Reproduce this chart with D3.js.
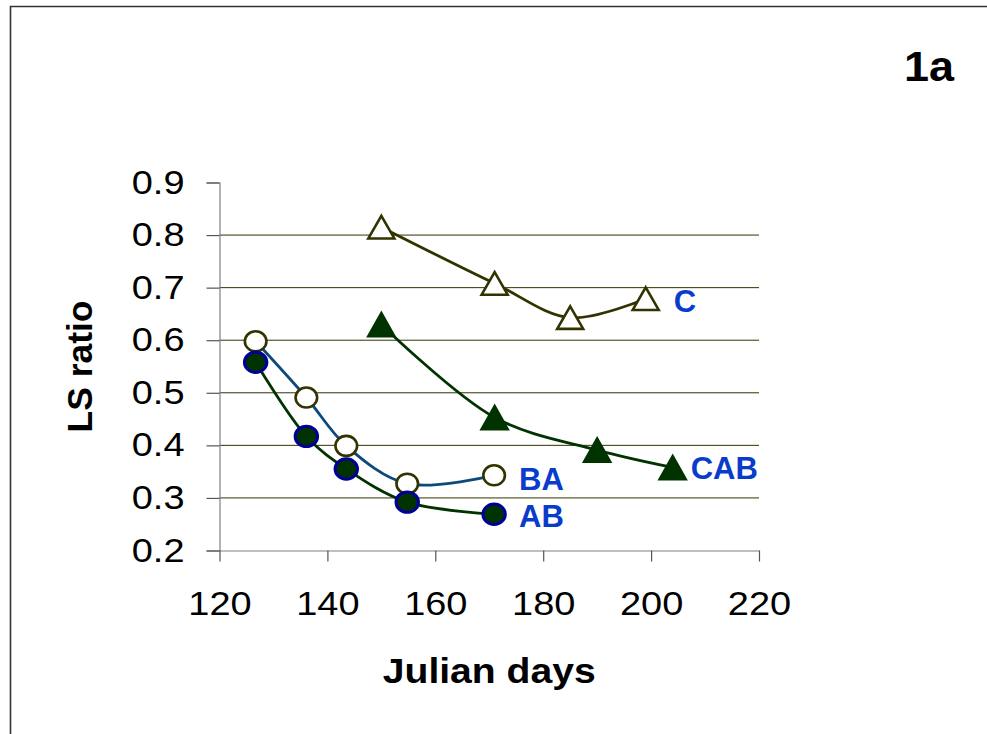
<!DOCTYPE html>
<html>
<head>
<meta charset="utf-8">
<script src="https://cdn.jsdelivr.net/npm/d3@7"></script>
<style>
  html, body { margin: 0; padding: 0; background: #fff; }
  svg { display: block; }
  text { font-family: Arial, "Liberation Sans", sans-serif; }
</style>
</head>
<body>
<svg id="chart" width="987" height="734"></svg>
<script>
// ---- Data ----
const xTicks = [120, 140, 160, 180, 200, 220];
const yTicks = [0.2, 0.3, 0.4, 0.5, 0.6, 0.7, 0.8, 0.9];
const gridValues = [0.3, 0.4, 0.5, 0.6, 0.7, 0.8];

const daysC   = [150, 171, 185, 199];
const valuesC = [0.815, 0.708, 0.643, 0.679];

const daysCAB   = [150, 171, 190, 204];
const valuesCAB = [0.630, 0.453, 0.391, 0.358];

const daysBA   = [126.7, 136.1, 143.5, 154.8, 170.9];
const valuesBA = [0.598, 0.491, 0.399, 0.327, 0.343];

const daysAB   = [126.7, 136.1, 143.5, 154.8, 170.9];
const valuesAB = [0.558, 0.417, 0.355, 0.292, 0.269];

const seriesNames = ["C", "CAB", "BA", "AB"];
const panelLabel = "1a";
const xTitle = "Julian days";
const yTitle = "LS ratio";

// ---- Build ----
const svg = d3.select("#chart");
const x = d3.scaleLinear().domain([120, 220]).range([219.5, 759]);
const y = d3.scaleLinear().domain([0.2, 0.9]).range([550.5, 182.5]);
const SX = 1.15; // horizontal stretch of text seen in reference

// Frame
svg.append("path")
  .attr("d", "M10.5,734 L10.5,6.5 L987,6.5")
  .attr("fill", "none").attr("stroke", "#333").attr("stroke-width", 1.6);

// Gridlines
svg.append("g").selectAll("line").data(gridValues).join("line")
  .attr("x1", x(120)).attr("x2", x(220))
  .attr("y1", d => y(d)).attr("y2", d => y(d))
  .attr("stroke", "#333300").attr("stroke-width", 1);

// Y axis
const gy = svg.append("g").attr("transform", `translate(${x(120)},0)`)
  .call(d3.axisLeft(y).tickValues(yTicks).tickSize(13).tickPadding(22)
    .tickFormat(d3.format(".1f")));
gy.select(".domain").attr("stroke", "#808080").attr("stroke-width", 1.2);
gy.selectAll(".tick line").attr("stroke", "#555").attr("stroke-width", 1.2);
gy.selectAll(".tick text")
  .attr("font-size", 33).attr("fill", "#000")
  .attr("font-family", "Arial, 'Liberation Sans', sans-serif")
  .attr("x", -35 / SX)
  .attr("transform", `scale(${SX},1)`);

// X axis
const gx = svg.append("g").attr("transform", `translate(0,${y(0.2)})`)
  .call(d3.axisBottom(x).tickValues(xTicks).tickSize(11).tickPadding(30)
    .tickSizeOuter(0));
gx.select(".domain").attr("stroke", "#808080").attr("stroke-width", 1.2);
gx.selectAll(".tick line").attr("stroke", "#555").attr("stroke-width", 1.2);
gx.selectAll(".tick text")
  .attr("font-size", 33).attr("fill", "#000")
  .attr("font-family", "Arial, 'Liberation Sans', sans-serif")
  .attr("x", 0)
  .attr("transform", `scale(${SX},1)`);

// Axis titles
svg.append("text")
  .attr("x", (x(120) + x(220)) / 2).attr("y", 683)
  .attr("text-anchor", "middle")
  .attr("font-size", 35).attr("font-weight", "bold")
  .attr("textLength", 213).attr("lengthAdjust", "spacingAndGlyphs")
  .text(xTitle);

svg.append("text")
  .attr("transform", `translate(92,${(y(0.2) + y(0.9)) / 2}) rotate(-90)`)
  .attr("text-anchor", "middle")
  .attr("font-size", 35).attr("font-weight", "bold")
  .attr("textLength", 132).attr("lengthAdjust", "spacingAndGlyphs")
  .text(yTitle);

// Panel label
svg.append("text")
  .attr("x", 929).attr("y", 81)
  .attr("text-anchor", "middle")
  .attr("font-size", 42).attr("font-weight", "bold")
  .attr("textLength", 50).attr("lengthAdjust", "spacingAndGlyphs")
  .text(panelLabel);

// Lines
const line = d3.line().x(d => x(d[0])).y(d => y(d[1])).curve(d3.curveCatmullRom.alpha(0.5));
const zip = (a, b) => a.map((v, i) => [v, b[i]]);

const dataC = zip(daysC, valuesC);
const dataCAB = zip(daysCAB, valuesCAB);
const dataBA = zip(daysBA, valuesBA);
const dataAB = zip(daysAB, valuesAB);

svg.append("path").datum(dataC).attr("d", line)
  .attr("fill", "none").attr("stroke", "#333300").attr("stroke-width", 2.8);
svg.append("path").datum(dataCAB).attr("d", line)
  .attr("fill", "none").attr("stroke", "#003300").attr("stroke-width", 2.8);
svg.append("path").datum(dataBA).attr("d", line)
  .attr("fill", "none").attr("stroke", "#0b4a7a").attr("stroke-width", 2.8);
svg.append("path").datum(dataAB).attr("d", line)
  .attr("fill", "none").attr("stroke", "#003300").attr("stroke-width", 2.8);

// Markers
const tri = (w, h) => `M0,${-h/2} L${w/2},${h/2} L${-w/2},${h/2} Z`;

svg.append("g").selectAll("path").data(dataC).join("path")
  .attr("transform", d => `translate(${x(d[0])},${y(d[1])})`)
  .attr("d", tri(26, 22.5))
  .attr("fill", "#fff").attr("stroke", "#333300").attr("stroke-width", 2.6)
  .attr("stroke-linejoin", "miter");

svg.append("g").selectAll("path").data(dataCAB).join("path")
  .attr("transform", d => `translate(${x(d[0])},${y(d[1])})`)
  .attr("d", tri(27, 24))
  .attr("fill", "#003300").attr("stroke", "#003300").attr("stroke-width", 2);

svg.append("g").selectAll("ellipse").data(dataBA).join("ellipse")
  .attr("cx", d => x(d[0])).attr("cy", d => y(d[1]))
  .attr("rx", 10.8).attr("ry", 10)
  .attr("fill", "#fff").attr("stroke", "#333300").attr("stroke-width", 2.6);

svg.append("g").selectAll("ellipse").data(dataAB).join("ellipse")
  .attr("cx", d => x(d[0])).attr("cy", d => y(d[1]))
  .attr("rx", 11.2).attr("ry", 10.2)
  .attr("fill", "#003300").attr("stroke", "#000099").attr("stroke-width", 3);

// Series labels
const labelColor = "#0a3ccc";
const lastOf = arr => arr[arr.length - 1];
const labels = [
  { name: seriesNames[0], d: lastOf(dataC),   dx: 28, dy: 13 },
  { name: seriesNames[1], d: lastOf(dataCAB), dx: 18, dy: 12 },
  { name: seriesNames[2], d: lastOf(dataBA),  dx: 25, dy: 15 },
  { name: seriesNames[3], d: lastOf(dataAB),  dx: 25, dy: 13 }
];
svg.append("g").selectAll("text").data(labels).join("text")
  .attr("x", d => x(d.d[0]) + d.dx).attr("y", d => y(d.d[1]) + d.dy)
  .attr("font-size", 31).attr("font-weight", "bold")
  .attr("fill", labelColor)
  .text(d => d.name);
</script>
</body>
</html>
